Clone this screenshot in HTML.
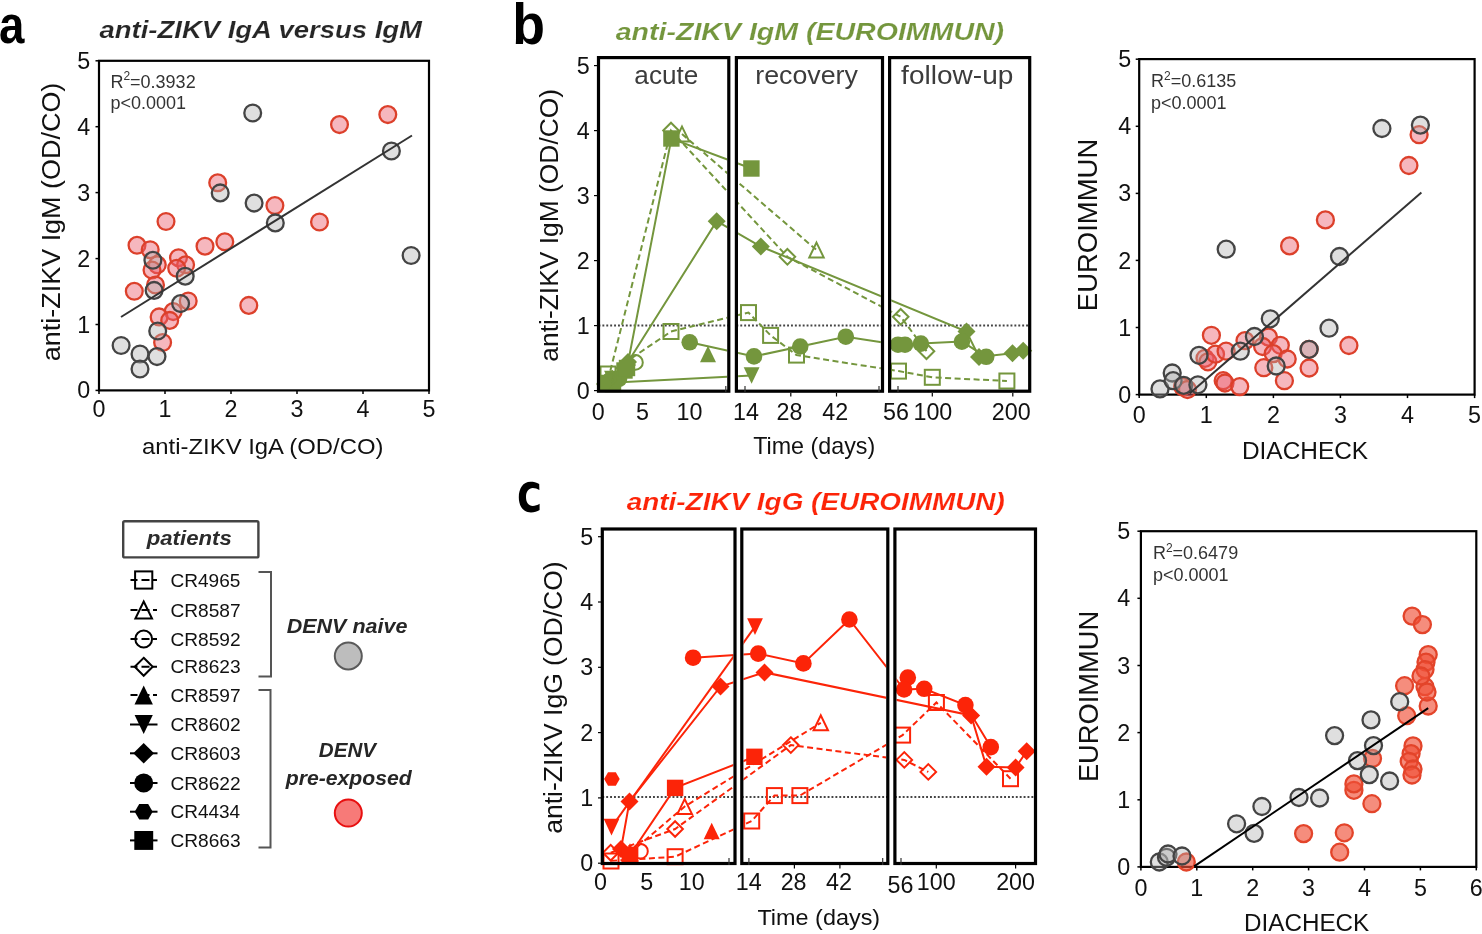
<!DOCTYPE html>
<html><head><meta charset="utf-8"><style>
html,body{margin:0;padding:0;background:#fff;overflow:hidden;}
svg{display:block;filter:blur(0.4px);}
text{font-family:"Liberation Sans", sans-serif;}
</style></head><body>
<svg width="1482" height="934" viewBox="0 0 1482 934" font-family='"Liberation Sans", sans-serif'>
<rect width="1482" height="934" fill="#fff"/>
<text transform="translate(-0.97,43.40) scale(0.8456,1)" font-size="54" fill="#000" font-weight="bold">a</text>
<text transform="translate(99.53,38.10) scale(1.1213,1)" font-size="24.5" fill="#262626" font-weight="bold" font-style="italic" stroke="#fff" stroke-width="0.15">anti-ZIKV IgA versus IgM</text>
<rect x="99" y="60.8" width="330.00" height="329.60" fill="none" stroke="#000" stroke-width="2.2"/>
<line x1="95.5" y1="390.4" x2="99.0" y2="390.4" stroke="#000" stroke-width="1.5"/>
<text x="90.2" y="398.4" font-size="23.3" fill="#111" text-anchor="end">0</text>
<line x1="99.0" y1="390.4" x2="99.0" y2="393.9" stroke="#000" stroke-width="1.5"/>
<text x="99.0" y="417.0" font-size="23.3" fill="#111" text-anchor="middle">0</text>
<line x1="95.5" y1="324.5" x2="99.0" y2="324.5" stroke="#000" stroke-width="1.5"/>
<text x="90.2" y="332.5" font-size="23.3" fill="#111" text-anchor="end">1</text>
<line x1="165.0" y1="390.4" x2="165.0" y2="393.9" stroke="#000" stroke-width="1.5"/>
<text x="165.0" y="417.0" font-size="23.3" fill="#111" text-anchor="middle">1</text>
<line x1="95.5" y1="258.6" x2="99.0" y2="258.6" stroke="#000" stroke-width="1.5"/>
<text x="90.2" y="266.6" font-size="23.3" fill="#111" text-anchor="end">2</text>
<line x1="231.0" y1="390.4" x2="231.0" y2="393.9" stroke="#000" stroke-width="1.5"/>
<text x="231.0" y="417.0" font-size="23.3" fill="#111" text-anchor="middle">2</text>
<line x1="95.5" y1="192.6" x2="99.0" y2="192.6" stroke="#000" stroke-width="1.5"/>
<text x="90.2" y="200.7" font-size="23.3" fill="#111" text-anchor="end">3</text>
<line x1="297.0" y1="390.4" x2="297.0" y2="393.9" stroke="#000" stroke-width="1.5"/>
<text x="297.0" y="417.0" font-size="23.3" fill="#111" text-anchor="middle">3</text>
<line x1="95.5" y1="126.7" x2="99.0" y2="126.7" stroke="#000" stroke-width="1.5"/>
<text x="90.2" y="134.8" font-size="23.3" fill="#111" text-anchor="end">4</text>
<line x1="363.0" y1="390.4" x2="363.0" y2="393.9" stroke="#000" stroke-width="1.5"/>
<text x="363.0" y="417.0" font-size="23.3" fill="#111" text-anchor="middle">4</text>
<line x1="95.5" y1="60.8" x2="99.0" y2="60.8" stroke="#000" stroke-width="1.5"/>
<text x="90.2" y="68.8" font-size="23.3" fill="#111" text-anchor="end">5</text>
<line x1="429.0" y1="390.4" x2="429.0" y2="393.9" stroke="#000" stroke-width="1.5"/>
<text x="429.0" y="417.0" font-size="23.3" fill="#111" text-anchor="middle">5</text>
<text transform="translate(142.04,453.60) scale(1.0385,1)" font-size="23.0" fill="#111">anti-ZIKV IgA (OD/CO)</text>
<text transform="translate(60.00,361.18) rotate(-90) scale(1.0139,1)" font-size="26.6" fill="#111">anti-ZIKV IgM (OD/CO)</text>
<text x="110.4" y="87.6" font-size="18" fill="#333">R<tspan font-size="12" dy="-7.2">2</tspan><tspan dy="7.2">=0.3932</tspan></text>
<text x="110.4" y="109.2" font-size="18" fill="#333">p&lt;0.0001</text>
<circle cx="166.0" cy="221.5" r="8.4" fill="rgba(235,95,110,0.45)" stroke="#dc402b" stroke-width="2.3"/>
<circle cx="137.0" cy="245.3" r="8.4" fill="rgba(235,95,110,0.45)" stroke="#dc402b" stroke-width="2.3"/>
<circle cx="150.2" cy="249.7" r="8.4" fill="rgba(235,95,110,0.45)" stroke="#dc402b" stroke-width="2.3"/>
<circle cx="157.3" cy="264.8" r="8.4" fill="rgba(235,95,110,0.45)" stroke="#dc402b" stroke-width="2.3"/>
<circle cx="152.0" cy="270.0" r="8.4" fill="rgba(235,95,110,0.45)" stroke="#dc402b" stroke-width="2.3"/>
<circle cx="178.5" cy="257.7" r="8.4" fill="rgba(235,95,110,0.45)" stroke="#dc402b" stroke-width="2.3"/>
<circle cx="185.6" cy="264.8" r="8.4" fill="rgba(235,95,110,0.45)" stroke="#dc402b" stroke-width="2.3"/>
<circle cx="176.7" cy="268.3" r="8.4" fill="rgba(235,95,110,0.45)" stroke="#dc402b" stroke-width="2.3"/>
<circle cx="205.0" cy="246.2" r="8.4" fill="rgba(235,95,110,0.45)" stroke="#dc402b" stroke-width="2.3"/>
<circle cx="224.8" cy="241.8" r="8.4" fill="rgba(235,95,110,0.45)" stroke="#dc402b" stroke-width="2.3"/>
<circle cx="134.3" cy="291.3" r="8.4" fill="rgba(235,95,110,0.45)" stroke="#dc402b" stroke-width="2.3"/>
<circle cx="155.5" cy="285.0" r="8.4" fill="rgba(235,95,110,0.45)" stroke="#dc402b" stroke-width="2.3"/>
<circle cx="188.2" cy="301.0" r="8.4" fill="rgba(235,95,110,0.45)" stroke="#dc402b" stroke-width="2.3"/>
<circle cx="173.2" cy="311.6" r="8.4" fill="rgba(235,95,110,0.45)" stroke="#dc402b" stroke-width="2.3"/>
<circle cx="159.1" cy="316.9" r="8.4" fill="rgba(235,95,110,0.45)" stroke="#dc402b" stroke-width="2.3"/>
<circle cx="169.7" cy="320.4" r="8.4" fill="rgba(235,95,110,0.45)" stroke="#dc402b" stroke-width="2.3"/>
<circle cx="162.6" cy="342.5" r="8.4" fill="rgba(235,95,110,0.45)" stroke="#dc402b" stroke-width="2.3"/>
<circle cx="248.8" cy="305.4" r="8.4" fill="rgba(235,95,110,0.45)" stroke="#dc402b" stroke-width="2.3"/>
<circle cx="217.7" cy="182.8" r="8.4" fill="rgba(235,95,110,0.45)" stroke="#dc402b" stroke-width="2.3"/>
<circle cx="339.5" cy="124.6" r="8.4" fill="rgba(235,95,110,0.45)" stroke="#dc402b" stroke-width="2.3"/>
<circle cx="387.8" cy="114.6" r="8.4" fill="rgba(235,95,110,0.45)" stroke="#dc402b" stroke-width="2.3"/>
<circle cx="274.9" cy="205.6" r="8.4" fill="rgba(235,95,110,0.45)" stroke="#dc402b" stroke-width="2.3"/>
<circle cx="319.5" cy="222.0" r="8.4" fill="rgba(235,95,110,0.45)" stroke="#dc402b" stroke-width="2.3"/>
<circle cx="152.9" cy="260.3" r="8.4" fill="rgba(175,175,175,0.4)" stroke="#444" stroke-width="2.3"/>
<circle cx="185.2" cy="276.2" r="8.4" fill="rgba(175,175,175,0.4)" stroke="#444" stroke-width="2.3"/>
<circle cx="154.1" cy="290.4" r="8.4" fill="rgba(175,175,175,0.4)" stroke="#444" stroke-width="2.3"/>
<circle cx="180.6" cy="303.6" r="8.4" fill="rgba(175,175,175,0.4)" stroke="#444" stroke-width="2.3"/>
<circle cx="157.7" cy="331.0" r="8.4" fill="rgba(175,175,175,0.4)" stroke="#444" stroke-width="2.3"/>
<circle cx="121.1" cy="345.5" r="8.4" fill="rgba(175,175,175,0.4)" stroke="#444" stroke-width="2.3"/>
<circle cx="140.0" cy="354.0" r="8.4" fill="rgba(175,175,175,0.4)" stroke="#444" stroke-width="2.3"/>
<circle cx="157.0" cy="356.6" r="8.4" fill="rgba(175,175,175,0.4)" stroke="#444" stroke-width="2.3"/>
<circle cx="140.0" cy="369.0" r="8.4" fill="rgba(175,175,175,0.4)" stroke="#444" stroke-width="2.3"/>
<circle cx="252.7" cy="113.0" r="8.4" fill="rgba(175,175,175,0.4)" stroke="#444" stroke-width="2.3"/>
<circle cx="220.2" cy="192.9" r="8.4" fill="rgba(175,175,175,0.4)" stroke="#444" stroke-width="2.3"/>
<circle cx="254.1" cy="203.1" r="8.4" fill="rgba(175,175,175,0.4)" stroke="#444" stroke-width="2.3"/>
<circle cx="391.4" cy="151.0" r="8.4" fill="rgba(175,175,175,0.4)" stroke="#444" stroke-width="2.3"/>
<circle cx="275.3" cy="222.9" r="8.4" fill="rgba(175,175,175,0.4)" stroke="#444" stroke-width="2.3"/>
<circle cx="411.1" cy="255.5" r="8.4" fill="rgba(175,175,175,0.4)" stroke="#444" stroke-width="2.3"/>
<line x1="121" y1="317" x2="412" y2="135.5" stroke="#333" stroke-width="2"/>
<text transform="translate(512.35,43.70) scale(0.9437,1)" font-size="56.8" fill="#000" font-weight="bold">b</text>
<text transform="translate(615.71,39.80) scale(1.1652,1)" font-size="24.5" fill="#74963d" font-weight="bold" font-style="italic" stroke="#fff" stroke-width="0.15">anti-ZIKV IgM (EUROIMMUN)</text>
<defs>
<clipPath id="clipb">
<rect x="600.2" y="59.300000000000004" width="126.9" height="330.2"/>
<rect x="738.1" y="59.300000000000004" width="142.7" height="330.2"/>
<rect x="891.3000000000001" y="59.300000000000004" width="136.7" height="330.2"/>
</clipPath></defs>
<line x1="598.5" y1="325.6" x2="728.8" y2="325.6" stroke="#444" stroke-width="2" stroke-dasharray="1.9 2"/>
<line x1="736.4" y1="325.6" x2="882.5" y2="325.6" stroke="#444" stroke-width="2" stroke-dasharray="1.9 2"/>
<line x1="889.6" y1="325.6" x2="1029.7" y2="325.6" stroke="#444" stroke-width="2" stroke-dasharray="1.9 2"/>
<path d="M608.0,374.0 L671.0,331.5 L748.5,312.6 L770.6,335.4 L796.5,355.1 L898.5,371.1 L932.3,377.3 L1006.9,381.0" fill="none" stroke="#74963d" stroke-width="2" stroke-dasharray="6 3.5" clip-path="url(#clipb)"/>
<path d="M606.0,383.0 L635.5,362.4" fill="none" stroke="#74963d" stroke-width="2" stroke-dasharray="6 3.5" clip-path="url(#clipb)"/>
<path d="M608.0,380.0 L671.0,130.5 L787.4,256.8 L900.7,316.8 L926.5,351.2" fill="none" stroke="#74963d" stroke-width="2" stroke-dasharray="6 3.5" clip-path="url(#clipb)"/>
<path d="M682.0,134.0 L816.5,250.0" fill="none" stroke="#74963d" stroke-width="2" stroke-dasharray="6 3.5" clip-path="url(#clipb)"/>
<path d="M606.0,383.0 L751.6,375.5" fill="none" stroke="#74963d" stroke-width="2" clip-path="url(#clipb)"/>
<path d="M628.0,362.0 L716.7,221.2 L760.8,246.5 L966.5,331.5 L979.0,357.0 L1012.5,353.3 L1023.2,350.7" fill="none" stroke="#74963d" stroke-width="2" clip-path="url(#clipb)"/>
<path d="M689.7,342.3 L754.0,356.4 L800.2,346.5 L845.8,336.7 L898.0,344.7 L905.0,344.7 L920.9,343.6 L961.9,341.6 L986.2,356.8" fill="none" stroke="#74963d" stroke-width="2" clip-path="url(#clipb)"/>
<path d="M627.0,368.0 L671.4,138.5 L751.4,168.5" fill="none" stroke="#74963d" stroke-width="2" clip-path="url(#clipb)"/>
<g>
<circle cx="608.0" cy="382.0" r="8.3" fill="#74963d"/>
<rect x="616.3" y="362.3" width="16.4" height="16.4" fill="#74963d"/>
<polygon points="627.0,356.0 636.0,365.0 627.0,374.0 618.0,365.0" fill="#74963d"/>
<polygon points="604.1,370.7 619.9,370.7 612.0,387.3" fill="#74963d"/>
<circle cx="619.0" cy="379.0" r="8.3" fill="#74963d"/>
<rect x="604.8" y="375.8" width="16.4" height="16.4" fill="#74963d"/>
<rect x="600.5" y="366.5" width="15.0" height="15.0" fill="none" stroke="#74963d" stroke-width="2"/>
<rect x="663.5" y="324.0" width="15.0" height="15.0" fill="none" stroke="#74963d" stroke-width="2"/>
<rect x="741.0" y="305.1" width="15.0" height="15.0" fill="none" stroke="#74963d" stroke-width="2"/>
<rect x="763.1" y="327.9" width="15.0" height="15.0" fill="none" stroke="#74963d" stroke-width="2"/>
<rect x="789.0" y="347.6" width="15.0" height="15.0" fill="none" stroke="#74963d" stroke-width="2"/>
<rect x="891.0" y="363.6" width="15.0" height="15.0" fill="none" stroke="#74963d" stroke-width="2"/>
<rect x="924.8" y="369.8" width="15.0" height="15.0" fill="none" stroke="#74963d" stroke-width="2"/>
<rect x="999.4" y="373.5" width="15.0" height="15.0" fill="none" stroke="#74963d" stroke-width="2"/>
<circle cx="606.0" cy="383.0" r="7.3" fill="none" stroke="#74963d" stroke-width="2"/>
<circle cx="635.5" cy="362.4" r="7.3" fill="none" stroke="#74963d" stroke-width="2"/>
<polygon points="608.0,372.2 615.8,380.0 608.0,387.8 600.2,380.0" fill="none" stroke="#74963d" stroke-width="2"/>
<polygon points="671.0,122.7 678.8,130.5 671.0,138.3 663.2,130.5" fill="none" stroke="#74963d" stroke-width="2"/>
<polygon points="787.4,249.0 795.2,256.8 787.4,264.6 779.6,256.8" fill="none" stroke="#74963d" stroke-width="2"/>
<polygon points="900.7,309.0 908.5,316.8 900.7,324.6 892.9,316.8" fill="none" stroke="#74963d" stroke-width="2"/>
<polygon points="926.5,343.4 934.3,351.2 926.5,359.0 918.7,351.2" fill="none" stroke="#74963d" stroke-width="2"/>
<polygon points="682.0,126.6 689.2,141.4 674.8,141.4" fill="none" stroke="#74963d" stroke-width="2" stroke-linejoin="miter"/>
<polygon points="816.5,242.6 823.7,257.4 809.3,257.4" fill="none" stroke="#74963d" stroke-width="2" stroke-linejoin="miter"/>
<polygon points="708.0,345.7 716.0,362.3 700.0,362.3" fill="#74963d"/>
<polygon points="598.1,374.7 613.9,374.7 606.0,391.3" fill="#74963d"/>
<polygon points="743.7,367.2 759.5,367.2 751.6,383.8" fill="#74963d"/>
<polygon points="628.0,353.0 637.0,362.0 628.0,371.0 619.0,362.0" fill="#74963d"/>
<polygon points="716.7,212.2 725.7,221.2 716.7,230.2 707.7,221.2" fill="#74963d"/>
<polygon points="760.8,237.5 769.8,246.5 760.8,255.5 751.8,246.5" fill="#74963d"/>
<polygon points="966.5,322.5 975.5,331.5 966.5,340.5 957.5,331.5" fill="#74963d"/>
<polygon points="979.0,348.0 988.0,357.0 979.0,366.0 970.0,357.0" fill="#74963d"/>
<polygon points="1012.5,344.3 1021.5,353.3 1012.5,362.3 1003.5,353.3" fill="#74963d"/>
<polygon points="1023.2,341.7 1032.2,350.7 1023.2,359.7 1014.2,350.7" fill="#74963d"/>
<circle cx="689.7" cy="342.3" r="8.3" fill="#74963d"/>
<circle cx="754.0" cy="356.4" r="8.3" fill="#74963d"/>
<circle cx="800.2" cy="346.5" r="8.3" fill="#74963d"/>
<circle cx="845.8" cy="336.7" r="8.3" fill="#74963d"/>
<circle cx="898.0" cy="344.7" r="8.3" fill="#74963d"/>
<circle cx="905.0" cy="344.7" r="8.3" fill="#74963d"/>
<circle cx="920.9" cy="343.6" r="8.3" fill="#74963d"/>
<circle cx="961.9" cy="341.6" r="8.3" fill="#74963d"/>
<circle cx="986.2" cy="356.8" r="8.3" fill="#74963d"/>
<polygon points="611.8,384.0 607.9,390.8 600.1,390.8 596.2,384.0 600.1,377.2 607.9,377.2" fill="#74963d"/>
<rect x="618.8" y="359.8" width="16.4" height="16.4" fill="#74963d"/>
<rect x="663.2" y="130.3" width="16.4" height="16.4" fill="#74963d"/>
<rect x="743.2" y="160.3" width="16.4" height="16.4" fill="#74963d"/>
</g>
<rect x="598.5" y="57.6" width="130.3" height="333.6" fill="none" stroke="#000" stroke-width="3.2"/>
<rect x="736.4" y="57.6" width="146.1" height="333.6" fill="none" stroke="#000" stroke-width="3.2"/>
<rect x="889.6" y="57.6" width="140.1" height="333.6" fill="none" stroke="#000" stroke-width="3.2"/>
<text x="589.6" y="398.6" font-size="23.3" fill="#111" text-anchor="end">0</text>
<line x1="594.0" y1="390.6" x2="597.0" y2="390.6" stroke="#000" stroke-width="1.2"/>
<text x="589.6" y="333.6" font-size="23.3" fill="#111" text-anchor="end">1</text>
<line x1="594.0" y1="325.6" x2="597.0" y2="325.6" stroke="#000" stroke-width="1.2"/>
<text x="589.6" y="268.6" font-size="23.3" fill="#111" text-anchor="end">2</text>
<line x1="594.0" y1="260.6" x2="597.0" y2="260.6" stroke="#000" stroke-width="1.2"/>
<text x="589.6" y="203.6" font-size="23.3" fill="#111" text-anchor="end">3</text>
<line x1="594.0" y1="195.6" x2="597.0" y2="195.6" stroke="#000" stroke-width="1.2"/>
<text x="589.6" y="138.6" font-size="23.3" fill="#111" text-anchor="end">4</text>
<line x1="594.0" y1="130.6" x2="597.0" y2="130.6" stroke="#000" stroke-width="1.2"/>
<text x="589.6" y="73.6" font-size="23.3" fill="#111" text-anchor="end">5</text>
<line x1="594.0" y1="65.6" x2="597.0" y2="65.6" stroke="#000" stroke-width="1.2"/>
<text x="598.3" y="419.5" font-size="23.3" fill="#111" text-anchor="middle">0</text>
<text x="642.6" y="419.5" font-size="23.3" fill="#111" text-anchor="middle">5</text>
<text x="689.4" y="419.5" font-size="23.3" fill="#111" text-anchor="middle">10</text>
<text x="745.9" y="419.5" font-size="23.3" fill="#111" text-anchor="middle">14</text>
<text x="789.5" y="419.5" font-size="23.3" fill="#111" text-anchor="middle">28</text>
<text x="835.2" y="419.5" font-size="23.3" fill="#111" text-anchor="middle">42</text>
<text x="896.0" y="419.5" font-size="23.3" fill="#111" text-anchor="middle">56</text>
<text x="932.9" y="419.5" font-size="23.3" fill="#111" text-anchor="middle">100</text>
<text x="1011.3" y="419.5" font-size="23.3" fill="#111" text-anchor="middle">200</text>
<line x1="790.8" y1="393.0" x2="790.8" y2="396.5" stroke="#000" stroke-width="1.2"/>
<line x1="836.5" y1="393.0" x2="836.5" y2="396.5" stroke="#000" stroke-width="1.2"/>
<line x1="932.3" y1="393.0" x2="932.3" y2="396.5" stroke="#000" stroke-width="1.2"/>
<line x1="1012.8" y1="393.0" x2="1012.8" y2="396.5" stroke="#000" stroke-width="1.2"/>
<line x1="725.8" y1="386.0" x2="725.8" y2="393.0" stroke="#333" stroke-width="1.2"/>
<line x1="745.0" y1="386.0" x2="745.0" y2="393.0" stroke="#333" stroke-width="1.2"/>
<line x1="879.0" y1="386.0" x2="879.0" y2="393.0" stroke="#333" stroke-width="1.2"/>
<line x1="898.0" y1="386.0" x2="898.0" y2="393.0" stroke="#333" stroke-width="1.2"/>
<text transform="translate(753.13,453.50) scale(1.0137,1)" font-size="23.0" fill="#111">Time (days)</text>
<text transform="translate(558.30,361.66) rotate(-90) scale(1.0005,1)" font-size="26.4" fill="#111">anti-ZIKV IgM (OD/CO)</text>
<text transform="translate(634.35,83.80) scale(1.0133,1)" font-size="25.8" fill="#3c3c3c">acute</text>
<text transform="translate(755.23,84.00) scale(1.0381,1)" font-size="25.8" fill="#3c3c3c">recovery</text>
<text transform="translate(901.12,84.00) scale(1.0872,1)" font-size="25.8" fill="#3c3c3c">follow-up</text>
<rect x="1139.2" y="59.1" width="335.40" height="335.50" fill="none" stroke="#000" stroke-width="2.2"/>
<line x1="1135.7" y1="394.6" x2="1139.2" y2="394.6" stroke="#000" stroke-width="1.5"/>
<text x="1131.2" y="402.6" font-size="23.3" fill="#111" text-anchor="end">0</text>
<line x1="1139.2" y1="394.6" x2="1139.2" y2="398.1" stroke="#000" stroke-width="1.5"/>
<text x="1139.2" y="423.4" font-size="23.3" fill="#111" text-anchor="middle">0</text>
<line x1="1135.7" y1="327.5" x2="1139.2" y2="327.5" stroke="#000" stroke-width="1.5"/>
<text x="1131.2" y="335.6" font-size="23.3" fill="#111" text-anchor="end">1</text>
<line x1="1206.3" y1="394.6" x2="1206.3" y2="398.1" stroke="#000" stroke-width="1.5"/>
<text x="1206.3" y="423.4" font-size="23.3" fill="#111" text-anchor="middle">1</text>
<line x1="1135.7" y1="260.4" x2="1139.2" y2="260.4" stroke="#000" stroke-width="1.5"/>
<text x="1131.2" y="268.5" font-size="23.3" fill="#111" text-anchor="end">2</text>
<line x1="1273.4" y1="394.6" x2="1273.4" y2="398.1" stroke="#000" stroke-width="1.5"/>
<text x="1273.4" y="423.4" font-size="23.3" fill="#111" text-anchor="middle">2</text>
<line x1="1135.7" y1="193.4" x2="1139.2" y2="193.4" stroke="#000" stroke-width="1.5"/>
<text x="1131.2" y="201.4" font-size="23.3" fill="#111" text-anchor="end">3</text>
<line x1="1340.4" y1="394.6" x2="1340.4" y2="398.1" stroke="#000" stroke-width="1.5"/>
<text x="1340.4" y="423.4" font-size="23.3" fill="#111" text-anchor="middle">3</text>
<line x1="1135.7" y1="126.3" x2="1139.2" y2="126.3" stroke="#000" stroke-width="1.5"/>
<text x="1131.2" y="134.3" font-size="23.3" fill="#111" text-anchor="end">4</text>
<line x1="1407.5" y1="394.6" x2="1407.5" y2="398.1" stroke="#000" stroke-width="1.5"/>
<text x="1407.5" y="423.4" font-size="23.3" fill="#111" text-anchor="middle">4</text>
<line x1="1135.7" y1="59.2" x2="1139.2" y2="59.2" stroke="#000" stroke-width="1.5"/>
<text x="1131.2" y="67.2" font-size="23.3" fill="#111" text-anchor="end">5</text>
<line x1="1474.6" y1="394.6" x2="1474.6" y2="398.1" stroke="#000" stroke-width="1.5"/>
<text x="1474.6" y="423.4" font-size="23.3" fill="#111" text-anchor="middle">5</text>
<text transform="translate(1241.94,459.40) scale(1.0488,1)" font-size="23.3" fill="#111">DIACHECK</text>
<text transform="translate(1096.60,311.20) rotate(-90) scale(1.0031,1)" font-size="27.4" fill="#111">EUROIMMUN</text>
<text x="1151" y="87.1" font-size="18" fill="#333">R<tspan font-size="12" dy="-7.2">2</tspan><tspan dy="7.2">=0.6135</tspan></text>
<text x="1151" y="109.3" font-size="18" fill="#333">p&lt;0.0001</text>
<circle cx="1419.1" cy="134.7" r="8.5" fill="rgba(235,95,110,0.45)" stroke="#dc402b" stroke-width="2.3"/>
<circle cx="1408.9" cy="165.5" r="8.5" fill="rgba(235,95,110,0.45)" stroke="#dc402b" stroke-width="2.3"/>
<circle cx="1325.4" cy="219.9" r="8.5" fill="rgba(235,95,110,0.45)" stroke="#dc402b" stroke-width="2.3"/>
<circle cx="1289.6" cy="245.9" r="8.5" fill="rgba(235,95,110,0.45)" stroke="#dc402b" stroke-width="2.3"/>
<circle cx="1182.6" cy="386.6" r="8.5" fill="rgba(235,95,110,0.45)" stroke="#dc402b" stroke-width="2.3"/>
<circle cx="1187.5" cy="389.5" r="8.5" fill="rgba(235,95,110,0.45)" stroke="#dc402b" stroke-width="2.3"/>
<circle cx="1205.0" cy="358.3" r="8.5" fill="rgba(235,95,110,0.45)" stroke="#dc402b" stroke-width="2.3"/>
<circle cx="1207.9" cy="361.8" r="8.5" fill="rgba(235,95,110,0.45)" stroke="#dc402b" stroke-width="2.3"/>
<circle cx="1211.4" cy="335.3" r="8.5" fill="rgba(235,95,110,0.45)" stroke="#dc402b" stroke-width="2.3"/>
<circle cx="1215.5" cy="354.2" r="8.5" fill="rgba(235,95,110,0.45)" stroke="#dc402b" stroke-width="2.3"/>
<circle cx="1226.1" cy="351.2" r="8.5" fill="rgba(235,95,110,0.45)" stroke="#dc402b" stroke-width="2.3"/>
<circle cx="1223.2" cy="380.7" r="8.5" fill="rgba(235,95,110,0.45)" stroke="#dc402b" stroke-width="2.3"/>
<circle cx="1225.0" cy="383.0" r="8.5" fill="rgba(235,95,110,0.45)" stroke="#dc402b" stroke-width="2.3"/>
<circle cx="1239.7" cy="386.6" r="8.5" fill="rgba(235,95,110,0.45)" stroke="#dc402b" stroke-width="2.3"/>
<circle cx="1245.0" cy="340.6" r="8.5" fill="rgba(235,95,110,0.45)" stroke="#dc402b" stroke-width="2.3"/>
<circle cx="1268.5" cy="337.1" r="8.5" fill="rgba(235,95,110,0.45)" stroke="#dc402b" stroke-width="2.3"/>
<circle cx="1262.6" cy="346.5" r="8.5" fill="rgba(235,95,110,0.45)" stroke="#dc402b" stroke-width="2.3"/>
<circle cx="1280.3" cy="345.3" r="8.5" fill="rgba(235,95,110,0.45)" stroke="#dc402b" stroke-width="2.3"/>
<circle cx="1263.8" cy="367.7" r="8.5" fill="rgba(235,95,110,0.45)" stroke="#dc402b" stroke-width="2.3"/>
<circle cx="1284.4" cy="380.7" r="8.5" fill="rgba(235,95,110,0.45)" stroke="#dc402b" stroke-width="2.3"/>
<circle cx="1273.2" cy="353.6" r="8.5" fill="rgba(235,95,110,0.45)" stroke="#dc402b" stroke-width="2.3"/>
<circle cx="1287.2" cy="359.0" r="8.5" fill="rgba(235,95,110,0.45)" stroke="#dc402b" stroke-width="2.3"/>
<circle cx="1309.1" cy="349.3" r="8.5" fill="rgba(235,95,110,0.45)" stroke="#dc402b" stroke-width="2.3"/>
<circle cx="1309.1" cy="368.0" r="8.5" fill="rgba(235,95,110,0.45)" stroke="#dc402b" stroke-width="2.3"/>
<circle cx="1348.9" cy="345.5" r="8.5" fill="rgba(235,95,110,0.45)" stroke="#dc402b" stroke-width="2.3"/>
<circle cx="1381.9" cy="128.5" r="8.5" fill="rgba(175,175,175,0.4)" stroke="#444" stroke-width="2.3"/>
<circle cx="1420.4" cy="125.1" r="8.5" fill="rgba(175,175,175,0.4)" stroke="#444" stroke-width="2.3"/>
<circle cx="1339.5" cy="256.5" r="8.5" fill="rgba(175,175,175,0.4)" stroke="#444" stroke-width="2.3"/>
<circle cx="1226.2" cy="249.2" r="8.5" fill="rgba(175,175,175,0.4)" stroke="#444" stroke-width="2.3"/>
<circle cx="1160.0" cy="388.9" r="8.5" fill="rgba(175,175,175,0.4)" stroke="#444" stroke-width="2.3"/>
<circle cx="1172.2" cy="373.0" r="8.5" fill="rgba(175,175,175,0.4)" stroke="#444" stroke-width="2.3"/>
<circle cx="1173.1" cy="380.7" r="8.5" fill="rgba(175,175,175,0.4)" stroke="#444" stroke-width="2.3"/>
<circle cx="1183.7" cy="385.4" r="8.5" fill="rgba(175,175,175,0.4)" stroke="#444" stroke-width="2.3"/>
<circle cx="1197.9" cy="384.8" r="8.5" fill="rgba(175,175,175,0.4)" stroke="#444" stroke-width="2.3"/>
<circle cx="1199.0" cy="355.3" r="8.5" fill="rgba(175,175,175,0.4)" stroke="#444" stroke-width="2.3"/>
<circle cx="1240.3" cy="351.2" r="8.5" fill="rgba(175,175,175,0.4)" stroke="#444" stroke-width="2.3"/>
<circle cx="1254.4" cy="336.5" r="8.5" fill="rgba(175,175,175,0.4)" stroke="#444" stroke-width="2.3"/>
<circle cx="1270.3" cy="318.8" r="8.5" fill="rgba(175,175,175,0.4)" stroke="#444" stroke-width="2.3"/>
<circle cx="1276.2" cy="366.0" r="8.5" fill="rgba(175,175,175,0.4)" stroke="#444" stroke-width="2.3"/>
<circle cx="1309.1" cy="349.3" r="8.5" fill="rgba(175,175,175,0.4)" stroke="#444" stroke-width="2.3"/>
<circle cx="1329.0" cy="328.2" r="8.5" fill="rgba(175,175,175,0.4)" stroke="#444" stroke-width="2.3"/>
<line x1="1189.6" y1="393.6" x2="1421.4" y2="192.5" stroke="#333" stroke-width="2"/>
<path d="M539.2,484.0 C536.5,482.3 533.5,481.7 530.5,481.7 C523.0,481.7 518.8,488.5 518.8,497.2 C518.8,506.3 523.4,512.4 531.0,512.4 C534.2,512.4 537.2,511.5 539.6,510.0 L539.6,503.8 C537.5,505.2 535.0,505.9 532.8,505.9 C528.6,505.9 526.0,502.4 526.0,497.0 C526.0,491.5 528.8,488.0 532.8,488.0 C535.0,488.0 537.3,488.7 539.4,490.0 Z" fill="#000"/>
<text transform="translate(626.72,509.90) scale(1.1384,1)" font-size="24.5" fill="#fc2408" font-weight="bold" font-style="italic" stroke="#fff" stroke-width="0.15">anti-ZIKV IgG (EUROIMMUN)</text>
<defs>
<clipPath id="clipc">
<rect x="604.0" y="530.7" width="129.3" height="331.1"/>
<rect x="743.5" y="530.7" width="142.6" height="331.1"/>
<rect x="896.6" y="530.7" width="137.2" height="331.1"/>
</clipPath></defs>
<line x1="602.3" y1="797" x2="735" y2="797" stroke="#444" stroke-width="2" stroke-dasharray="1.9 2"/>
<line x1="741.8" y1="797" x2="887.8" y2="797" stroke="#444" stroke-width="2" stroke-dasharray="1.9 2"/>
<line x1="894.9" y1="797" x2="1035.5" y2="797" stroke="#444" stroke-width="2" stroke-dasharray="1.9 2"/>
<path d="M611.0,861.0 L675.1,856.7 L751.7,821.0 L774.4,795.6 L799.9,795.6 L902.6,735.1 L936.4,702.5 L1010.5,778.7" fill="none" stroke="#fc2408" stroke-width="2" stroke-dasharray="6 3.5" clip-path="url(#clipc)"/>
<path d="M610.7,852.7 L675.1,829.0 L790.8,745.1 L904.3,759.9 L928.3,771.9" fill="none" stroke="#fc2408" stroke-width="2" stroke-dasharray="6 3.5" clip-path="url(#clipc)"/>
<path d="M630.0,853.0 L684.7,806.5 L820.8,722.8" fill="none" stroke="#fc2408" stroke-width="2" stroke-dasharray="6 3.5" clip-path="url(#clipc)"/>
<path d="M611.5,827.1 L755.0,626.6" fill="none" stroke="#fc2408" stroke-width="2" clip-path="url(#clipc)"/>
<path d="M621.0,849.0 L629.5,801.4 L720.5,686.5 L764.5,672.4 L971.1,715.4 L986.5,766.8 L1015.6,767.6 L1026.7,751.3" fill="none" stroke="#fc2408" stroke-width="2" clip-path="url(#clipc)"/>
<path d="M693.1,657.7 L758.2,653.6 L803.4,663.4 L849.4,619.5 L904.1,689.5 L924.2,688.8 L965.4,705.1 L990.8,747.1" fill="none" stroke="#fc2408" stroke-width="2" clip-path="url(#clipc)"/>
<path d="M630.0,855.0 L675.1,787.9 L754.4,756.8" fill="none" stroke="#fc2408" stroke-width="2" clip-path="url(#clipc)"/>
<g>
<circle cx="907.8" cy="677.6" r="8.3" fill="#fc2408"/>
<rect x="621.8" y="846.8" width="16.4" height="16.4" fill="#fc2408"/>
<rect x="603.5" y="853.5" width="15.0" height="15.0" fill="none" stroke="#fc2408" stroke-width="2"/>
<rect x="667.6" y="849.2" width="15.0" height="15.0" fill="none" stroke="#fc2408" stroke-width="2"/>
<rect x="744.2" y="813.5" width="15.0" height="15.0" fill="none" stroke="#fc2408" stroke-width="2"/>
<rect x="766.9" y="788.1" width="15.0" height="15.0" fill="none" stroke="#fc2408" stroke-width="2"/>
<rect x="792.4" y="788.1" width="15.0" height="15.0" fill="none" stroke="#fc2408" stroke-width="2"/>
<rect x="895.1" y="727.6" width="15.0" height="15.0" fill="none" stroke="#fc2408" stroke-width="2"/>
<rect x="928.9" y="695.0" width="15.0" height="15.0" fill="none" stroke="#fc2408" stroke-width="2"/>
<rect x="1003.0" y="771.2" width="15.0" height="15.0" fill="none" stroke="#fc2408" stroke-width="2"/>
<circle cx="640.5" cy="851.2" r="7.3" fill="none" stroke="#fc2408" stroke-width="2"/>
<polygon points="610.7,844.9 618.5,852.7 610.7,860.5 602.9,852.7" fill="none" stroke="#fc2408" stroke-width="2"/>
<polygon points="675.1,821.2 682.9,829.0 675.1,836.8 667.3,829.0" fill="none" stroke="#fc2408" stroke-width="2"/>
<polygon points="790.8,737.3 798.6,745.1 790.8,752.9 783.0,745.1" fill="none" stroke="#fc2408" stroke-width="2"/>
<polygon points="904.3,752.1 912.1,759.9 904.3,767.7 896.5,759.9" fill="none" stroke="#fc2408" stroke-width="2"/>
<polygon points="928.3,764.1 936.1,771.9 928.3,779.7 920.5,771.9" fill="none" stroke="#fc2408" stroke-width="2"/>
<polygon points="630.0,845.6 637.2,860.4 622.8,860.4" fill="none" stroke="#fc2408" stroke-width="2" stroke-linejoin="miter"/>
<polygon points="684.7,799.1 691.9,813.9 677.5,813.9" fill="none" stroke="#fc2408" stroke-width="2" stroke-linejoin="miter"/>
<polygon points="820.8,715.4 828.0,730.2 813.6,730.2" fill="none" stroke="#fc2408" stroke-width="2" stroke-linejoin="miter"/>
<polygon points="711.7,822.7 719.7,839.3 703.7,839.3" fill="#fc2408"/>
<polygon points="603.6,818.8 619.4,818.8 611.5,835.4" fill="#fc2408"/>
<polygon points="747.1,618.3 762.9,618.3 755.0,634.9" fill="#fc2408"/>
<polygon points="621.0,840.0 630.0,849.0 621.0,858.0 612.0,849.0" fill="#fc2408"/>
<polygon points="629.5,792.4 638.5,801.4 629.5,810.4 620.5,801.4" fill="#fc2408"/>
<polygon points="720.5,677.5 729.5,686.5 720.5,695.5 711.5,686.5" fill="#fc2408"/>
<polygon points="764.5,663.4 773.5,672.4 764.5,681.4 755.5,672.4" fill="#fc2408"/>
<polygon points="971.1,706.4 980.1,715.4 971.1,724.4 962.1,715.4" fill="#fc2408"/>
<polygon points="986.5,757.8 995.5,766.8 986.5,775.8 977.5,766.8" fill="#fc2408"/>
<polygon points="1015.6,758.6 1024.6,767.6 1015.6,776.6 1006.6,767.6" fill="#fc2408"/>
<polygon points="1026.7,742.3 1035.7,751.3 1026.7,760.3 1017.7,751.3" fill="#fc2408"/>
<circle cx="693.1" cy="657.7" r="8.3" fill="#fc2408"/>
<circle cx="758.2" cy="653.6" r="8.3" fill="#fc2408"/>
<circle cx="803.4" cy="663.4" r="8.3" fill="#fc2408"/>
<circle cx="849.4" cy="619.5" r="8.3" fill="#fc2408"/>
<circle cx="904.1" cy="689.5" r="8.3" fill="#fc2408"/>
<circle cx="924.2" cy="688.8" r="8.3" fill="#fc2408"/>
<circle cx="965.4" cy="705.1" r="8.3" fill="#fc2408"/>
<circle cx="990.8" cy="747.1" r="8.3" fill="#fc2408"/>
<polygon points="619.7,779.0 615.8,785.8 608.0,785.8 604.1,779.0 608.0,772.2 615.8,772.2" fill="#fc2408"/>
<rect x="621.8" y="846.8" width="16.4" height="16.4" fill="#fc2408"/>
<rect x="666.9" y="779.7" width="16.4" height="16.4" fill="#fc2408"/>
<rect x="746.2" y="748.6" width="16.4" height="16.4" fill="#fc2408"/>
</g>
<rect x="602.3" y="529" width="132.7" height="334.5" fill="none" stroke="#000" stroke-width="3.2"/>
<rect x="741.8" y="529" width="146.0" height="334.5" fill="none" stroke="#000" stroke-width="3.2"/>
<rect x="894.9" y="529" width="140.6" height="334.5" fill="none" stroke="#000" stroke-width="3.2"/>
<text x="593.2" y="871.2" font-size="23.3" fill="#111" text-anchor="end">0</text>
<line x1="598.0" y1="863.2" x2="601.0" y2="863.2" stroke="#000" stroke-width="1.2"/>
<text x="593.2" y="805.9" font-size="23.3" fill="#111" text-anchor="end">1</text>
<line x1="598.0" y1="797.9" x2="601.0" y2="797.9" stroke="#000" stroke-width="1.2"/>
<text x="593.2" y="740.6" font-size="23.3" fill="#111" text-anchor="end">2</text>
<line x1="598.0" y1="732.6" x2="601.0" y2="732.6" stroke="#000" stroke-width="1.2"/>
<text x="593.2" y="675.3" font-size="23.3" fill="#111" text-anchor="end">3</text>
<line x1="598.0" y1="667.3" x2="601.0" y2="667.3" stroke="#000" stroke-width="1.2"/>
<text x="593.2" y="610.0" font-size="23.3" fill="#111" text-anchor="end">4</text>
<line x1="598.0" y1="602.0" x2="601.0" y2="602.0" stroke="#000" stroke-width="1.2"/>
<text x="593.2" y="544.7" font-size="23.3" fill="#111" text-anchor="end">5</text>
<line x1="598.0" y1="536.7" x2="601.0" y2="536.7" stroke="#000" stroke-width="1.2"/>
<text x="600.5" y="890.2" font-size="23.3" fill="#111" text-anchor="middle">0</text>
<text x="646.7" y="890.2" font-size="23.3" fill="#111" text-anchor="middle">5</text>
<text x="691.8" y="890.2" font-size="23.3" fill="#111" text-anchor="middle">10</text>
<text x="748.8" y="890.2" font-size="23.3" fill="#111" text-anchor="middle">14</text>
<text x="793.6" y="890.2" font-size="23.3" fill="#111" text-anchor="middle">28</text>
<text x="839.0" y="890.2" font-size="23.3" fill="#111" text-anchor="middle">42</text>
<text x="900.4" y="892.5" font-size="23.3" fill="#111" text-anchor="middle">56</text>
<text x="936.3" y="890.2" font-size="23.3" fill="#111" text-anchor="middle">100</text>
<text x="1015.6" y="890.2" font-size="23.3" fill="#111" text-anchor="middle">200</text>
<line x1="794.4" y1="865.0" x2="794.4" y2="868.5" stroke="#000" stroke-width="1.2"/>
<line x1="839.9" y1="865.0" x2="839.9" y2="868.5" stroke="#000" stroke-width="1.2"/>
<line x1="936.3" y1="865.0" x2="936.3" y2="868.5" stroke="#000" stroke-width="1.2"/>
<line x1="1015.6" y1="865.0" x2="1015.6" y2="868.5" stroke="#000" stroke-width="1.2"/>
<line x1="729.0" y1="858.0" x2="729.0" y2="865.0" stroke="#333" stroke-width="1.2"/>
<line x1="748.9" y1="858.0" x2="748.9" y2="865.0" stroke="#333" stroke-width="1.2"/>
<line x1="882.7" y1="858.0" x2="882.7" y2="865.0" stroke="#333" stroke-width="1.2"/>
<line x1="901.0" y1="858.0" x2="901.0" y2="865.0" stroke="#333" stroke-width="1.2"/>
<text transform="translate(757.43,925.00) scale(1.0187,1)" font-size="23.0" fill="#111">Time (days)</text>
<text transform="translate(561.50,833.86) rotate(-90) scale(0.9975,1)" font-size="26.6" fill="#111">anti-ZIKV IgG (OD/CO)</text>
<rect x="1140.9" y="531.2" width="335.40" height="335.70" fill="none" stroke="#000" stroke-width="2.2"/>
<line x1="1137.4" y1="866.9" x2="1140.9" y2="866.9" stroke="#000" stroke-width="1.5"/>
<text x="1130.3" y="874.9" font-size="23.3" fill="#111" text-anchor="end">0</text>
<line x1="1137.4" y1="799.8" x2="1140.9" y2="799.8" stroke="#000" stroke-width="1.5"/>
<text x="1130.3" y="807.8" font-size="23.3" fill="#111" text-anchor="end">1</text>
<line x1="1137.4" y1="732.6" x2="1140.9" y2="732.6" stroke="#000" stroke-width="1.5"/>
<text x="1130.3" y="740.7" font-size="23.3" fill="#111" text-anchor="end">2</text>
<line x1="1137.4" y1="665.5" x2="1140.9" y2="665.5" stroke="#000" stroke-width="1.5"/>
<text x="1130.3" y="673.5" font-size="23.3" fill="#111" text-anchor="end">3</text>
<line x1="1137.4" y1="598.3" x2="1140.9" y2="598.3" stroke="#000" stroke-width="1.5"/>
<text x="1130.3" y="606.4" font-size="23.3" fill="#111" text-anchor="end">4</text>
<line x1="1137.4" y1="531.2" x2="1140.9" y2="531.2" stroke="#000" stroke-width="1.5"/>
<text x="1130.3" y="539.2" font-size="23.3" fill="#111" text-anchor="end">5</text>
<line x1="1140.9" y1="866.9" x2="1140.9" y2="870.4" stroke="#000" stroke-width="1.5"/>
<text x="1140.9" y="896.2" font-size="23.3" fill="#111" text-anchor="middle">0</text>
<line x1="1196.8" y1="866.9" x2="1196.8" y2="870.4" stroke="#000" stroke-width="1.5"/>
<text x="1196.8" y="896.2" font-size="23.3" fill="#111" text-anchor="middle">1</text>
<line x1="1252.7" y1="866.9" x2="1252.7" y2="870.4" stroke="#000" stroke-width="1.5"/>
<text x="1252.7" y="896.2" font-size="23.3" fill="#111" text-anchor="middle">2</text>
<line x1="1308.6" y1="866.9" x2="1308.6" y2="870.4" stroke="#000" stroke-width="1.5"/>
<text x="1308.6" y="896.2" font-size="23.3" fill="#111" text-anchor="middle">3</text>
<line x1="1364.5" y1="866.9" x2="1364.5" y2="870.4" stroke="#000" stroke-width="1.5"/>
<text x="1364.5" y="896.2" font-size="23.3" fill="#111" text-anchor="middle">4</text>
<line x1="1420.4" y1="866.9" x2="1420.4" y2="870.4" stroke="#000" stroke-width="1.5"/>
<text x="1420.4" y="896.2" font-size="23.3" fill="#111" text-anchor="middle">5</text>
<line x1="1476.3" y1="866.9" x2="1476.3" y2="870.4" stroke="#000" stroke-width="1.5"/>
<text x="1476.3" y="896.2" font-size="23.3" fill="#111" text-anchor="middle">6</text>
<text transform="translate(1244.06,930.80) scale(1.0404,1)" font-size="23.3" fill="#111">DIACHECK</text>
<text transform="translate(1098.00,782.08) rotate(-90) scale(0.9959,1)" font-size="27.4" fill="#111">EUROIMMUN</text>
<text x="1152.9" y="559.2" font-size="18" fill="#333">R<tspan font-size="12" dy="-7.2">2</tspan><tspan dy="7.2">=0.6479</tspan></text>
<text x="1152.9" y="581.2" font-size="18" fill="#333">p&lt;0.0001</text>
<circle cx="1186.3" cy="862.0" r="8.5" fill="rgba(240,80,55,0.65)" stroke="#e3442a" stroke-width="2.3"/>
<circle cx="1303.6" cy="833.6" r="8.5" fill="rgba(240,80,55,0.65)" stroke="#e3442a" stroke-width="2.3"/>
<circle cx="1344.3" cy="832.8" r="8.5" fill="rgba(240,80,55,0.65)" stroke="#e3442a" stroke-width="2.3"/>
<circle cx="1339.7" cy="852.2" r="8.5" fill="rgba(240,80,55,0.65)" stroke="#e3442a" stroke-width="2.3"/>
<circle cx="1353.9" cy="790.3" r="8.5" fill="rgba(240,80,55,0.65)" stroke="#e3442a" stroke-width="2.3"/>
<circle cx="1353.9" cy="783.9" r="8.5" fill="rgba(240,80,55,0.65)" stroke="#e3442a" stroke-width="2.3"/>
<circle cx="1371.9" cy="803.7" r="8.5" fill="rgba(240,80,55,0.65)" stroke="#e3442a" stroke-width="2.3"/>
<circle cx="1412.1" cy="616.1" r="8.5" fill="rgba(240,80,55,0.65)" stroke="#e3442a" stroke-width="2.3"/>
<circle cx="1422.4" cy="624.6" r="8.5" fill="rgba(240,80,55,0.65)" stroke="#e3442a" stroke-width="2.3"/>
<circle cx="1428.2" cy="654.6" r="8.5" fill="rgba(240,80,55,0.65)" stroke="#e3442a" stroke-width="2.3"/>
<circle cx="1426.0" cy="662.1" r="8.5" fill="rgba(240,80,55,0.65)" stroke="#e3442a" stroke-width="2.3"/>
<circle cx="1425.0" cy="669.6" r="8.5" fill="rgba(240,80,55,0.65)" stroke="#e3442a" stroke-width="2.3"/>
<circle cx="1404.6" cy="685.7" r="8.5" fill="rgba(240,80,55,0.65)" stroke="#e3442a" stroke-width="2.3"/>
<circle cx="1425.0" cy="686.7" r="8.5" fill="rgba(240,80,55,0.65)" stroke="#e3442a" stroke-width="2.3"/>
<circle cx="1428.2" cy="706.0" r="8.5" fill="rgba(240,80,55,0.65)" stroke="#e3442a" stroke-width="2.3"/>
<circle cx="1406.7" cy="715.7" r="8.5" fill="rgba(240,80,55,0.65)" stroke="#e3442a" stroke-width="2.3"/>
<circle cx="1372.5" cy="758.5" r="8.5" fill="rgba(240,80,55,0.65)" stroke="#e3442a" stroke-width="2.3"/>
<circle cx="1421.0" cy="676.0" r="8.5" fill="rgba(240,80,55,0.65)" stroke="#e3442a" stroke-width="2.3"/>
<circle cx="1427.0" cy="692.0" r="8.5" fill="rgba(240,80,55,0.65)" stroke="#e3442a" stroke-width="2.3"/>
<circle cx="1413.0" cy="745.9" r="8.5" fill="rgba(240,80,55,0.65)" stroke="#e3442a" stroke-width="2.3"/>
<circle cx="1411.1" cy="753.6" r="8.5" fill="rgba(240,80,55,0.65)" stroke="#e3442a" stroke-width="2.3"/>
<circle cx="1409.2" cy="761.3" r="8.5" fill="rgba(240,80,55,0.65)" stroke="#e3442a" stroke-width="2.3"/>
<circle cx="1413.0" cy="769.0" r="8.5" fill="rgba(240,80,55,0.65)" stroke="#e3442a" stroke-width="2.3"/>
<circle cx="1412.0" cy="775.0" r="8.5" fill="rgba(240,80,55,0.65)" stroke="#e3442a" stroke-width="2.3"/>
<circle cx="1159.3" cy="862.0" r="8.5" fill="rgba(175,175,175,0.4)" stroke="#444" stroke-width="2.3"/>
<circle cx="1166.5" cy="857.3" r="8.5" fill="rgba(175,175,175,0.4)" stroke="#444" stroke-width="2.3"/>
<circle cx="1168.0" cy="854.0" r="8.5" fill="rgba(175,175,175,0.4)" stroke="#444" stroke-width="2.3"/>
<circle cx="1182.0" cy="856.0" r="8.5" fill="rgba(175,175,175,0.4)" stroke="#444" stroke-width="2.3"/>
<circle cx="1236.6" cy="823.8" r="8.5" fill="rgba(175,175,175,0.4)" stroke="#444" stroke-width="2.3"/>
<circle cx="1254.1" cy="833.4" r="8.5" fill="rgba(175,175,175,0.4)" stroke="#444" stroke-width="2.3"/>
<circle cx="1261.9" cy="806.5" r="8.5" fill="rgba(175,175,175,0.4)" stroke="#444" stroke-width="2.3"/>
<circle cx="1299.0" cy="797.5" r="8.5" fill="rgba(175,175,175,0.4)" stroke="#444" stroke-width="2.3"/>
<circle cx="1319.6" cy="798.0" r="8.5" fill="rgba(175,175,175,0.4)" stroke="#444" stroke-width="2.3"/>
<circle cx="1399.7" cy="701.7" r="8.5" fill="rgba(175,175,175,0.4)" stroke="#444" stroke-width="2.3"/>
<circle cx="1371.0" cy="719.9" r="8.5" fill="rgba(175,175,175,0.4)" stroke="#444" stroke-width="2.3"/>
<circle cx="1334.6" cy="735.6" r="8.5" fill="rgba(175,175,175,0.4)" stroke="#444" stroke-width="2.3"/>
<circle cx="1373.5" cy="745.6" r="8.5" fill="rgba(175,175,175,0.4)" stroke="#444" stroke-width="2.3"/>
<circle cx="1357.5" cy="760.6" r="8.5" fill="rgba(175,175,175,0.4)" stroke="#444" stroke-width="2.3"/>
<circle cx="1369.3" cy="774.6" r="8.5" fill="rgba(175,175,175,0.4)" stroke="#444" stroke-width="2.3"/>
<circle cx="1389.6" cy="781.0" r="8.5" fill="rgba(175,175,175,0.4)" stroke="#444" stroke-width="2.3"/>
<line x1="1194.1" y1="866.3" x2="1428.2" y2="708.2" stroke="#000" stroke-width="2"/>
<rect x="123.2" y="521.2" width="135.2" height="36.2" rx="1.5" fill="#fff" stroke="#444" stroke-width="2.4"/>
<text transform="translate(146.74,545.30) scale(1.0882,1)" font-size="20.4" fill="#2b2b2b" font-weight="bold" font-style="italic">patients</text>
<line x1="130.5" y1="580" x2="157.5" y2="580" stroke="#000" stroke-width="2" stroke-dasharray="7 4 8 3.5 4"/>
<rect x="135.1" y="571.4" width="17.2" height="17.2" fill="none" stroke="#000" stroke-width="2"/>
<text transform="translate(170.45,586.60) scale(1.0599,1)" font-size="18.0" fill="#111">CR4965</text>
<line x1="130.5" y1="610" x2="157.5" y2="610" stroke="#000" stroke-width="2" stroke-dasharray="7 4 8 3.5 4"/>
<polygon points="143.7,601.5 152.0,618.5 135.4,618.5" fill="none" stroke="#000" stroke-width="2" stroke-linejoin="miter"/>
<text transform="translate(170.44,616.60) scale(1.0629,1)" font-size="18.0" fill="#111">CR8587</text>
<line x1="130.5" y1="639" x2="157.5" y2="639" stroke="#000" stroke-width="2" stroke-dasharray="7 4 8 3.5 4"/>
<circle cx="143.7" cy="639.0" r="8.4" fill="none" stroke="#000" stroke-width="2"/>
<text transform="translate(170.44,645.60) scale(1.0629,1)" font-size="18.0" fill="#111">CR8592</text>
<line x1="130.5" y1="666.8" x2="157.5" y2="666.8" stroke="#000" stroke-width="2" stroke-dasharray="7 4 8 3.5 4"/>
<polygon points="143.7,657.8 152.7,666.8 143.7,675.8 134.7,666.8" fill="none" stroke="#000" stroke-width="2"/>
<text transform="translate(170.44,673.40) scale(1.0629,1)" font-size="18.0" fill="#111">CR8623</text>
<line x1="130.5" y1="695" x2="157.5" y2="695" stroke="#000" stroke-width="2" stroke-dasharray="7 4 8 3.5 4"/>
<polygon points="143.7,685.5 152.9,704.5 134.5,704.5" fill="#000"/>
<text transform="translate(170.44,701.60) scale(1.0629,1)" font-size="18.0" fill="#111">CR8597</text>
<line x1="130" y1="724.5" x2="157.5" y2="724.5" stroke="#000" stroke-width="2"/>
<polygon points="134.6,715.0 152.8,715.0 143.7,734.0" fill="#000"/>
<text transform="translate(170.44,731.10) scale(1.0629,1)" font-size="18.0" fill="#111">CR8602</text>
<line x1="130" y1="753.3" x2="157.5" y2="753.3" stroke="#000" stroke-width="2"/>
<polygon points="143.7,742.9 154.0,753.3 143.7,763.6 133.3,753.3" fill="#000"/>
<text transform="translate(170.44,759.90) scale(1.0629,1)" font-size="18.0" fill="#111">CR8603</text>
<line x1="130" y1="783" x2="157.5" y2="783" stroke="#000" stroke-width="2"/>
<circle cx="143.7" cy="783.0" r="9.5" fill="#000"/>
<text transform="translate(170.44,789.60) scale(1.0629,1)" font-size="18.0" fill="#111">CR8622</text>
<line x1="130" y1="811.7" x2="157.5" y2="811.7" stroke="#000" stroke-width="2"/>
<polygon points="152.7,811.7 148.2,819.5 139.2,819.5 134.7,811.7 139.2,803.9 148.2,803.9" fill="#000"/>
<text transform="translate(170.45,818.30) scale(1.0569,1)" font-size="18.0" fill="#111">CR4434</text>
<line x1="130" y1="840.4" x2="157.5" y2="840.4" stroke="#000" stroke-width="2"/>
<rect x="134.3" y="831.0" width="18.9" height="18.9" fill="#000"/>
<text transform="translate(170.44,847.00) scale(1.0629,1)" font-size="18.0" fill="#111">CR8663</text>
<path d="M258.5,572 H271 V676.5 H258.5" fill="none" stroke="#555" stroke-width="2"/>
<path d="M258.5,690 H270.5 V847.4 H258.5" fill="none" stroke="#555" stroke-width="2"/>
<text transform="translate(286.67,633.40) scale(1.0872,1)" font-size="19.8" fill="#262626" font-weight="bold" font-style="italic">DENV naive</text>
<circle cx="348.3" cy="656" r="13.5" fill="#bdbdbd" stroke="#5a5a5a" stroke-width="2"/>
<text transform="translate(318.79,756.70) scale(1.0404,1)" font-size="19.8" fill="#262626" font-weight="bold" font-style="italic">DENV</text>
<text transform="translate(285.72,784.90) scale(1.0709,1)" font-size="19.8" fill="#262626" font-weight="bold" font-style="italic">pre-exposed</text>
<circle cx="348.3" cy="813.1" r="13.5" fill="#f77a78" stroke="#e81010" stroke-width="2"/>
</svg>
</body></html>
